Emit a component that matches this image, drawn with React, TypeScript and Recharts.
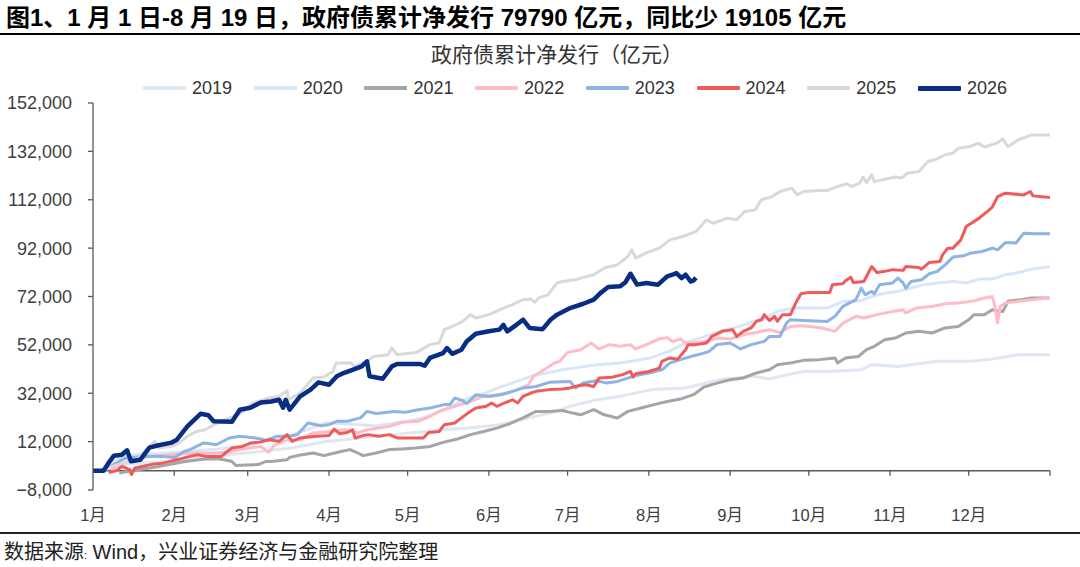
import React from 'react';
import { LineChart, Line, XAxis, YAxis, ReferenceLine } from 'recharts';

type Pt = [number, number];

const s2019: Pt[] = [[3,0],[8,1500],[15,3000],[25,3500],[35,4500],[45,5500],[55,7000],[65,8000],[76,9500],[89,12100],[102,13500],[115,15000],[125,16000],[135,17000],[145,17800],[155,19000],[165,21500],[175,24000],[182,26600],[192,29300],[201,30700],[213,33500],[226,34200],[239,37600],[252,39000],[258,37900],[265,39700],[271,41000],[280,41000],[293,41700],[297,43800],[307,43100],[322,45200],[335,45200],[343,46200],[353,47900],[365,47900]];

const s2020: Pt[] = [[3,0],[7,3000],[12,6000],[18,6800],[25,7000],[32,7500],[40,8200],[48,9000],[56,10000],[64,11600],[70,13000],[76,14900],[83,17500],[89,19700],[95,19500],[102,19000],[108,18500],[114,19500],[120,20400],[126,21800],[132,24500],[137,27000],[143,30000],[148,31400],[154,34000],[160,36300],[167,39000],[173,40400],[179,41700],[186,42800],[192,43800],[201,44500],[207,45500],[213,46700],[220,49500],[226,52800],[232,55000],[239,57600],[246,59500],[252,61700],[257,63500],[261,65800],[267,67300],[280,67200],[286,70000],[292,70000],[297,72000],[302,73400],[307,74100],[312,75500],[317,76900],[322,77600],[328,78200],[333,77600],[338,79200],[343,79200],[348,81000],[353,81900],[358,83300],[365,84400]];

const s2021: Pt[] = [[10,-1000],[17,400],[24,1500],[29,2500],[34,3600],[38,4200],[43,4800],[48,4800],[50,4500],[53,3800],[54.5,2100],[58,2300],[63,2500],[66,3800],[68,3800],[74,4500],[75,5500],[79,6500],[84,7300],[88,6200],[91,7000],[95,8000],[98,8700],[101,7300],[103,6200],[108,7300],[113,8700],[118,9000],[123,9400],[128.5,10000],[133.5,11700],[139,13100],[144,14900],[149,16200],[154,17600],[159,19400],[164,21800],[169,24500],[174,24500],[179,24900],[183,23800],[186,23100],[191,25200],[195,23100],[200,21800],[204,24500],[209,25900],[214,27300],[219,28600],[224,29600],[229,31400],[233,34600],[238,36200],[243,37600],[248,38300],[253,40400],[258,41700],[261,43800],[266,44500],[271,45600],[277,45900],[283,46600],[284,44500],[287,46600],[292,47200],[295,50000],[298,51400],[302,54100],[306,54800],[310,56900],[315,57600],[320,56900],[325,59000],[330,59600],[334,62400],[336,64500],[340,64500],[343,66500],[347,65800],[349,70000],[354,70700],[358,71400],[365,71400]];

const s2022: Pt[] = [[7,0],[9,1800],[15,4500],[22,5900],[29,6600],[34,7000],[40,7300],[46,7300],[50,7600],[53,8000],[56,8700],[60,9400],[64,10000],[67,7600],[69,10300],[74,12800],[79,12800],[84,15600],[90,16200],[94,16500],[96,16900],[101,15600],[104.5,16900],[109,17600],[113,18300],[118,20000],[124,20400],[128.5,22400],[132,24500],[136,25900],[140,27300],[144,28600],[149,30700],[154,31400],[158,32100],[162,33500],[166,35500],[168,39000],[172,41700],[176,44500],[178,45200],[181,48900],[186,50000],[190,52800],[193,50300],[197,52100],[201,51400],[205,52100],[207,50300],[211,52100],[216,54500],[219,55000],[221,53400],[224,54400],[226,52800],[230,53000],[234,53400],[238,54800],[243,54400],[248,56200],[253,57100],[258,58300],[262,57100],[266,59600],[271,59900],[278,59000],[283,57600],[286,61000],[291,63800],[294,63100],[299,64500],[305,65800],[309,66500],[310,65200],[314,67200],[320,67900],[325,69000],[330,69300],[335,70000],[340,71400],[343,72000],[344,67900],[345,61000],[346,67900],[348,69300],[353,70000],[358,70700],[365,71400]];

const s2023: Pt[] = [[4,0],[8,2500],[12,5000],[15,5400],[20,6000],[26,5900],[31,5400],[35,8000],[37,8700],[42,11400],[44,11200],[47,10700],[52,13500],[56,14200],[62,13500],[64,13100],[66,12500],[70,14200],[75,14200],[78,14900],[82,19700],[87,18600],[90,19000],[93,20400],[97,20400],[102,21800],[104.5,24500],[108,23600],[115,24500],[119,24100],[124,25200],[128.5,25900],[134,27300],[136,27300],[138,30000],[141,29000],[142.5,27700],[146,31400],[151,30700],[156,31500],[160,32800],[164,34200],[169,34800],[174,36500],[182,36900],[184,34200],[187,36200],[192,37200],[196,36200],[200,36900],[207,39300],[212,40400],[217,41700],[220,44500],[224,45900],[228,47200],[233,48600],[235,49300],[238,52100],[243,52800],[247,50300],[251,52100],[256,53400],[258,55500],[262,55500],[264.5,61000],[266,62400],[271,62100],[280,61700],[283,63800],[286,67900],[291,70700],[293,75500],[294.5,72700],[297,74100],[298,73100],[300,76900],[305,77600],[307,79600],[309,77600],[310,75500],[312,78200],[316,78900],[319,81400],[322,82400],[325,85100],[328,88300],[332,88800],[335,90000],[339,90600],[343,92000],[345,91300],[348,94300],[352,94100],[355,98200],[359,97900],[365,97900]];

const s2024: Pt[] = [[6,-800],[9,0],[11,1800],[14,400],[14.7,-1600],[16,1100],[22,2500],[27,3200],[32,4500],[37,5900],[40,6600],[43,5900],[49,5900],[50.5,7300],[53,9400],[57,10000],[60,11400],[64,11900],[67,12800],[71,12100],[74,14900],[76,12100],[79,13500],[85,14200],[90,14500],[92,17200],[94,15300],[97,15800],[99,16900],[100,13500],[103,14500],[105,14900],[109,14200],[113,14900],[116,13500],[126,13500],[128,15800],[132,16200],[134,19000],[138,19700],[140,21400],[143,23800],[146,25900],[150,26600],[152,28000],[154,26600],[157,28000],[160,29300],[162,28000],[164,30700],[167,32100],[169,32800],[174,33500],[179,33800],[182,34200],[185,35100],[188,35500],[191,34800],[193,38300],[198,38600],[202,39700],[205,41000],[206,38700],[207,40100],[212,41000],[216,42400],[217,45200],[220,46600],[223,46100],[226,50000],[227,52100],[230,52100],[234,52800],[236,55500],[240,57600],[244,58300],[245.5,55500],[248,57600],[251,59000],[253,61700],[255,62400],[256,64500],[258,62100],[260,63800],[261,61700],[263,64500],[266,64500],[268,69300],[270,73100],[273,73700],[281,73700],[282,76900],[286,77300],[287,78500],[289,80000],[290,77800],[294,78200],[297,84400],[299,81900],[302,82400],[305,83100],[309,82800],[310,84400],[315,84000],[316,83300],[319,86100],[323,86500],[324,89200],[326,92000],[328,92000],[331,95400],[333,100900],[335,102300],[338,104400],[341,107100],[343,109000],[345,113300],[348,114700],[355,114000],[357.5,115400],[358.5,113600],[365,112900]];

const s2025: Pt[] = [[3,0],[8,2000],[12,3300],[17,5000],[20.5,8700],[23.5,12100],[25,9500],[30,10000],[33,11600],[36,14200],[39,16000],[43,17000],[47,19500],[52,21800],[56,23500],[61,28000],[67,30000],[71,30700],[74,33000],[74.5,29300],[79,32100],[84,38300],[88,38700],[91.5,41000],[92.7,44500],[98.5,44500],[99.5,43100],[104.5,45200],[107,47200],[112.5,47900],[114,50700],[116,47900],[123.5,48900],[128.5,52100],[132,52800],[134,58300],[137,59600],[141,61700],[144,64500],[146,63100],[151,64500],[156.5,67200],[160,68600],[164,70700],[167,71000],[168.5,69600],[170,71400],[173.5,72700],[177,77600],[179,78200],[184,78900],[186,79600],[191,81000],[195,83800],[200,85100],[204,88600],[205.5,91300],[207,87900],[211,90000],[216,92000],[220,95400],[225,96800],[230,98900],[234,103700],[236.5,102300],[242,104400],[245.5,103700],[248.5,107100],[252.5,107800],[255,112000],[259,113300],[262,115400],[266.5,116800],[268.5,114000],[271,115400],[277,115800],[280,115800],[284,117500],[287.5,118600],[289.5,117500],[292.5,118900],[293.7,121400],[295,119100],[297,122300],[298,119500],[302,120500],[306,121400],[308.5,121000],[310.5,123000],[315,123700],[318.5,127800],[321.7,128800],[325,130600],[328,131300],[330,133300],[334.5,134000],[337.5,135400],[340,133800],[344.7,135400],[347,137100],[349,134000],[353,136800],[358,138800],[365,138800]];

const s2026: Pt[] = [[0,0],[4,0],[6,3300],[8,6200],[11,6600],[13,8400],[14.5,3900],[18,4500],[21.5,9500],[25,10500],[30,11600],[32,12800],[36,18300],[41,23500],[44,22900],[46,20400],[53,20200],[56,25200],[60,26000],[64,28200],[68,28600],[71,29300],[72.5,26000],[73.5,29300],[75,25200],[79,30700],[83,33500],[86,36500],[90,35500],[93,39000],[95,40100],[99,41700],[102.5,43100],[104.5,45200],[105.5,39000],[110.5,38000],[114,43100],[116,44100],[124.5,44100],[126.5,43400],[128.5,46600],[133.5,48600],[135,50700],[137,48300],[140.5,50000],[142.5,53400],[146,56600],[151,57600],[155,58300],[156.5,60300],[158,57600],[161.5,60300],[164,62400],[166.5,59000],[171.5,58500],[174.5,62400],[177,64500],[182,67200],[187,69000],[191,70700],[193.5,73400],[196.5,75900],[201,76200],[203,77800],[205,81400],[207.5,76900],[211,77600],[215.5,76900],[219,80300],[221,81000],[222.5,81700],[224.5,79600],[226,81000],[228,78200],[229,78600],[230,79790]];

const seriesNames = ['2019', '2020', '2021', '2022', '2023', '2024', '2025', '2026'];
const seriesValues = [s2019, s2020, s2021, s2022, s2023, s2024, s2025, s2026];

const monthStarts = [0, 31, 59, 90, 120, 151, 181, 212, 243, 273, 304, 334];
const monthLabels = ['1月', '2月', '3月', '4月', '5月', '6月', '7月', '8月', '9月', '10月', '11月', '12月'];
const yTicks = [-8000, 12000, 32000, 52000, 72000, 92000, 112000, 132000, 152000];

const titleText = '图1、1 月 1 日-8 月 19 日，政府债累计净发行 79790 亿元，同比少 19105 亿元';
const chartTitle = '政府债累计净发行（亿元）';
const sourceLabel = '数据来源';
const sourceRest = ' Wind，兴业证券经济与金融研究院整理';

const styles: Record<string, { color: string; width: number }> = {
  '2019': { color: '#dfe7f1', width: 3 },
  '2020': { color: '#d9e6f7', width: 3 },
  '2021': { color: '#a5a5a5', width: 3 },
  '2022': { color: '#ffbcc6', width: 3 },
  '2023': { color: '#8db4e2', width: 3 },
  '2024': { color: '#ef5b5b', width: 3 },
  '2025': { color: '#d9d9d9', width: 3 },
  '2026': { color: '#0a2d84', width: 4.5 },
};

const FONT = '"Liberation Sans", Arial, "Noto Sans CJK SC", sans-serif';
const AXIS = '#595959';

const toData = (pts: Pt[]) => pts.map(([d, v]) => ({ d, v }));

const fmt = (v: number) => (v < 0 ? '\u2212' : '') + Math.abs(v).toLocaleString('en-US');

const XTick = (props: any) => {
  const { x, y, payload } = props;
  const idx = monthStarts.indexOf(payload.value);
  return (
    <text x={x} y={y + 25} textAnchor="middle" dominantBaseline="central" fontSize={16.5} fill="#404040" fontFamily={FONT}>
      {monthLabels[idx]}
    </text>
  );
};

export default function App() {
  const tickEnds = [...monthStarts.slice(1), 365];
  return (
    <div style={{ position: 'relative', width: 1080, height: 567, background: '#fff', fontFamily: FONT, overflow: 'hidden' }}>
      <style>{'body{margin:0;}'}</style>
      <div style={{ position: 'absolute', left: 6, top: 4, fontSize: 24, fontWeight: 700, color: '#000', whiteSpace: 'nowrap', lineHeight: '28px' }}>
        {titleText}
      </div>
      <div style={{ position: 'absolute', left: 0, top: 33, width: 1080, height: 2, background: '#000' }} />
      <div style={{ position: 'absolute', left: 0, width: 1114, top: 42, textAlign: 'center', fontSize: 21, color: '#333', lineHeight: '26px' }}>
        {chartTitle}
      </div>
      <div style={{ position: 'absolute', left: 0, top: 0 }}>
        <LineChart width={1080} height={567} margin={{ top: 103, right: 30, bottom: 37, left: 0 }}>
          <XAxis
            type="number"
            dataKey="d"
            domain={[0, 365]}
            ticks={monthStarts}
            interval={0}
            allowDataOverflow
            axisLine={false}
            tickLine={false}
            tickSize={0}
            tickMargin={0}
            height={40}
            tick={<XTick />}
          />
          <YAxis
            type="number"
            domain={[-8000, 152000]}
            ticks={yTicks}
            interval={0}
            allowDataOverflow
            width={93}
            axisLine={{ stroke: AXIS, strokeWidth: 1.3 }}
            tickLine={{ stroke: AXIS, strokeWidth: 1.3 }}
            tickSize={5}
            tickMargin={16}
            tick={{ fontSize: 18, fill: '#404040', fontFamily: FONT }}
            tickFormatter={fmt}
          />
          <ReferenceLine y={0} stroke={AXIS} strokeWidth={1.5} />
          {tickEnds.map((d) => (
            <ReferenceLine key={'t' + d} segment={[{ x: d, y: 0 }, { x: d, y: -2100 }]} stroke={AXIS} strokeWidth={1.3} />
          ))}
          {seriesNames.map((name, i) => (
            <Line
              key={name}
              data={toData(seriesValues[i])}
              dataKey="v"
              name={name}
              type="linear"
              dot={false}
              activeDot={false}
              stroke={styles[name].color}
              strokeWidth={styles[name].width}
              strokeLinejoin="round"
              isAnimationActive={false}
            />
          ))}
        </LineChart>
      </div>
      {seriesNames.map((name, i) => (
        <div key={'lg' + name} style={{ position: 'absolute', left: 143 + i * 110.7, top: 76, height: 24, display: 'flex', alignItems: 'center' }}>
          <div style={{ width: 43, height: name === '2026' ? 5 : 4, background: styles[name].color, borderRadius: 1 }} />
          <span style={{ marginLeft: 6, fontSize: 18, color: '#333', lineHeight: '24px' }}>{name}</span>
        </div>
      ))}
      <div style={{ position: 'absolute', left: 0, top: 532, width: 1080, height: 1.5, background: '#222' }} />
      <div style={{ position: 'absolute', left: 4, top: 539, fontSize: 20, color: '#222', whiteSpace: 'nowrap', lineHeight: '26px' }}>
        {sourceLabel}
        <span style={{ fontSize: 11 }}>:</span>
        {sourceRest}
      </div>
    </div>
  );
}
